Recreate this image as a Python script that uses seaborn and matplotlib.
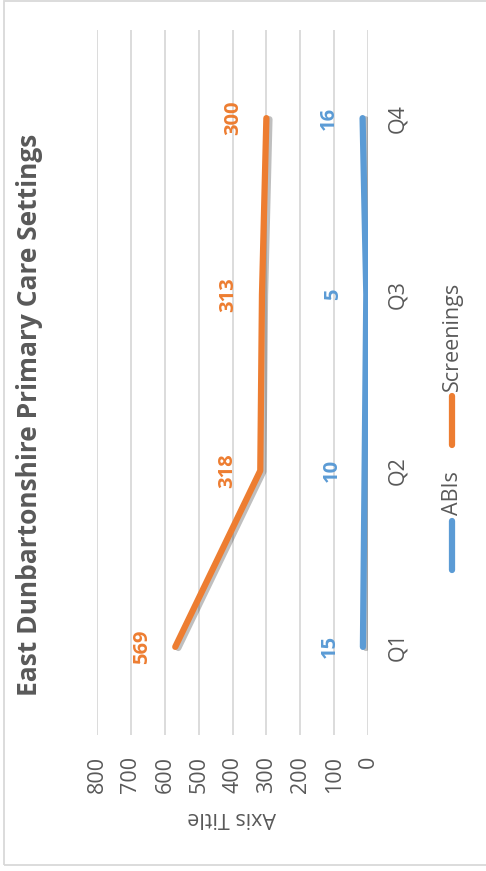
import matplotlib
matplotlib.use("Agg")
import matplotlib.pyplot as plt
import matplotlib.patheffects as pe
from matplotlib.lines import Line2D
from matplotlib.patches import Rectangle
import seaborn as sns
import pandas as pd

# ---- data -------------------------------------------------------------
quarters = ["Q1", "Q2", "Q3", "Q4"]
abis = [15, 10, 5, 16]
screenings = [569, 318, 313, 300]
series_names = ["ABIs", "Screenings"]
value_ticks = [0, 100, 200, 300, 400, 500, 600, 700, 800]
title = "East Dunbartonshire Primary Care Settings"
axis_title = "Axis Title"

BLUE = "#5B9BD5"
ORANGE = "#ED7D31"
GREY_TEXT = "#595959"
GRID = "#D9D9D9"

sns.set_theme(style="white")
plt.rcParams["font.family"] = ["Open Sans", "DejaVu Sans"]

df = pd.DataFrame({
    "quarter": quarters * 2,
    "pos": list(range(len(quarters))) * 2,
    "value": abis + screenings,
    "series": [series_names[0]] * len(abis) + [series_names[1]] * len(screenings),
})
palette = {series_names[0]: BLUE, series_names[1]: ORANGE}

W, H = 486, 871
fig = plt.figure(figsize=(W / 100, H / 100), dpi=100)


def fx(px):
    return px / W


def fy(py):
    return 1 - py / H


# the chart is laid out sideways: values run right-to-left, quarters bottom-to-top
ax = fig.add_axes([fx(97), 136 / H, 271 / W, 705 / H])
sns.lineplot(data=df, x="value", y="pos", hue="series", palette=palette,
             orient="y", sort=False, errorbar=None, linewidth=4.5,
             legend=False, ax=ax, zorder=3)
for line in ax.lines:
    line.set_solid_capstyle("round")
    line.set_solid_joinstyle("round")
    line.set_path_effects([
        pe.SimpleLineShadow(offset=(2.2, -0.8), shadow_color="black", alpha=0.25),
        pe.Normal(),
    ])

ax.set_xlim(800, 0)
ax.set_ylim(-0.5, len(quarters) - 0.5)
ax.set_xticks(value_ticks)
ax.set_xticklabels([str(v) for v in value_ticks], rotation=90)
ax.grid(axis="x", color=GRID, linewidth=1.3)
ax.grid(axis="y", visible=False)
ax.set_axisbelow(True)
for s in ax.spines.values():
    s.set_visible(False)
ax.tick_params(axis="x", length=0, pad=15, labelsize=15.5, labelcolor=GREY_TEXT)

ax.yaxis.tick_right()
ax.set_yticks(range(len(quarters)))
ax.set_yticklabels(quarters, rotation=90, va="center")
ax.tick_params(axis="y", length=0, pad=14, labelsize=15.5, labelcolor=GREY_TEXT)
ax.set_xlabel("")
ax.set_ylabel("")

# value labels beside each point
for vals, color in ((abis, BLUE), (screenings, ORANGE)):
    for i, v in enumerate(vals):
        ax.annotate(str(v), xy=(v, i), xytext=(-24, 0), textcoords="offset points",
                    rotation=90, ha="center", va="center", color=color,
                    fontsize=14.5, fontweight="bold")

# titles
fig.text(fx(30), fy(415), title, rotation=90, ha="center", va="center",
         fontsize=19, fontweight="bold", color=GREY_TEXT)
fig.text(fx(232), fy(817), axis_title, rotation=180, ha="center", va="center",
         fontsize=15.5, color=GREY_TEXT)

# legend keys
legend_items = [(series_names[0], BLUE, 521, 570, 493),
                (series_names[1], ORANGE, 396, 445, 336)]
for name, color, y0, y1, ty in legend_items:
    fig.add_artist(Line2D([fx(452), fx(452)], [fy(y0), fy(y1)], color=color,
                          linewidth=4.5, solid_capstyle="round",
                          transform=fig.transFigure))
    fig.text(fx(452), fy(ty), name, rotation=90, ha="center", va="center",
             fontsize=15.5, color=GREY_TEXT)

# chart frame
fig.add_artist(Rectangle((fx(4), fy(865)), 1.0, fy(1) - fy(865), fill=False,
                         edgecolor=GRID, linewidth=1.3, transform=fig.transFigure))

fig.savefig("out.png", dpi=100, facecolor="white")
